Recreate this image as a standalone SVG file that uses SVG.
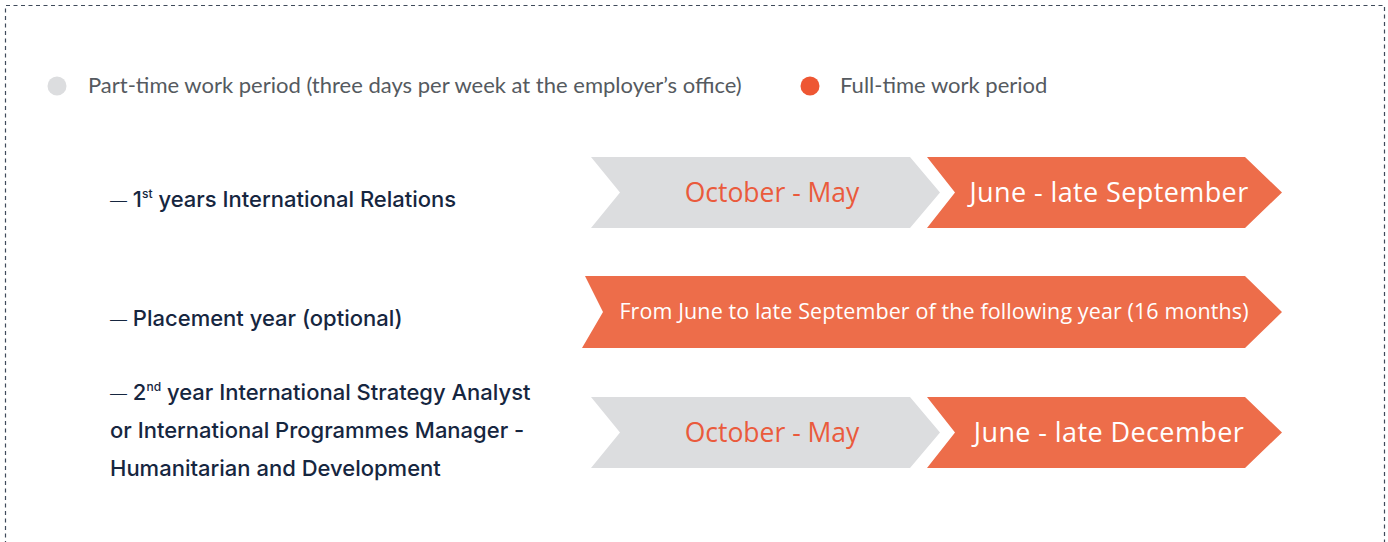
<svg xmlns="http://www.w3.org/2000/svg" width="1388" height="542" viewBox="0 0 1388 542">
<style>
.legend{font-family:Lato,"Open Sans",sans-serif;font-size:22px;fill:#555a60}
.label{font-family:Inter,"Noto Sans",sans-serif;font-size:22px;font-weight:500;fill:#16263f}
.dash{font-weight:300;font-size:17px}
.gray{fill:#dcdddf}
.orange{fill:#ed6d4a}
.t-or{font-family:"Open Sans","Noto Sans",sans-serif;font-size:26.5px;fill:#ea5a3c;text-anchor:middle}
.t-wh{font-family:"Open Sans","Noto Sans",sans-serif;font-size:27px;letter-spacing:0.4px;fill:#ffffff;text-anchor:middle}
.t-wh-s{font-family:"Open Sans","Noto Sans",sans-serif;font-size:21.5px;letter-spacing:0.1px;fill:#ffffff;text-anchor:middle}
</style>
<rect width="1388" height="542" fill="#ffffff"/>
<path d="M5.5 560 V5.5 H1384.5 V560" fill="none" stroke="#3f4a5a" stroke-width="1.2" stroke-dasharray="4 3.5"/>
<g id="legend">
<circle cx="57" cy="86" r="9.5" fill="#dcdddf"/>
<text class="legend" x="88" y="93">Part-time work period (three days per week at the employer’s office)</text>
<circle cx="810" cy="86" r="9.5" fill="#ee5633"/>
<text class="legend" x="840" y="93">Full-time work period</text>
</g>
<g id="label1"><text class="label" x="110" y="207"><tspan class="dash">—</tspan> 1<tspan font-size="12" dy="-9">st</tspan><tspan dy="9"> years International Relations</tspan></text></g>
<g id="label2"><text class="label" x="110" y="326"><tspan class="dash">—</tspan> Placement year (optional)</text></g>
<g id="label3">
<text class="label" x="110" y="400"><tspan class="dash">—</tspan> 2<tspan font-size="12" dy="-9">nd</tspan><tspan dy="9"> year International Strategy Analyst</tspan></text>
<text class="label" x="110" y="438">or International Programmes Manager -</text>
<text class="label" x="110" y="476">Humanitarian and Development</text>
</g>
<g id="row1-part">
<polygon class="gray" points="591,157 910,157 940,192.5 910,228 591,228 620,192.5"/>
<text class="t-or" x="772" y="202">October - May</text>
</g>
<g id="row1-full">
<polygon class="orange" points="927,157 1245,157 1282,192.5 1245,228 927,228 955,192.5"/>
<text class="t-wh" x="1109" y="202">June - late September</text>
</g>
<g id="row2-full">
<polygon class="orange" points="585,276 1245,276 1282,312 1245,348 582,348 603,312"/>
<text class="t-wh-s" x="934" y="319">From June to late September of the following year (16 months)</text>
</g>
<g id="row3-part">
<polygon class="gray" points="591,397 910,397 940,432.5 910,468 591,468 620,432.5"/>
<text class="t-or" x="772" y="442">October - May</text>
</g>
<g id="row3-full">
<polygon class="orange" points="927,397 1245,397 1282,432.5 1245,468 927,468 955,432.5"/>
<text class="t-wh" x="1109" y="442">June - late December</text>
</g>
<g id="connectors"/>
</svg>
